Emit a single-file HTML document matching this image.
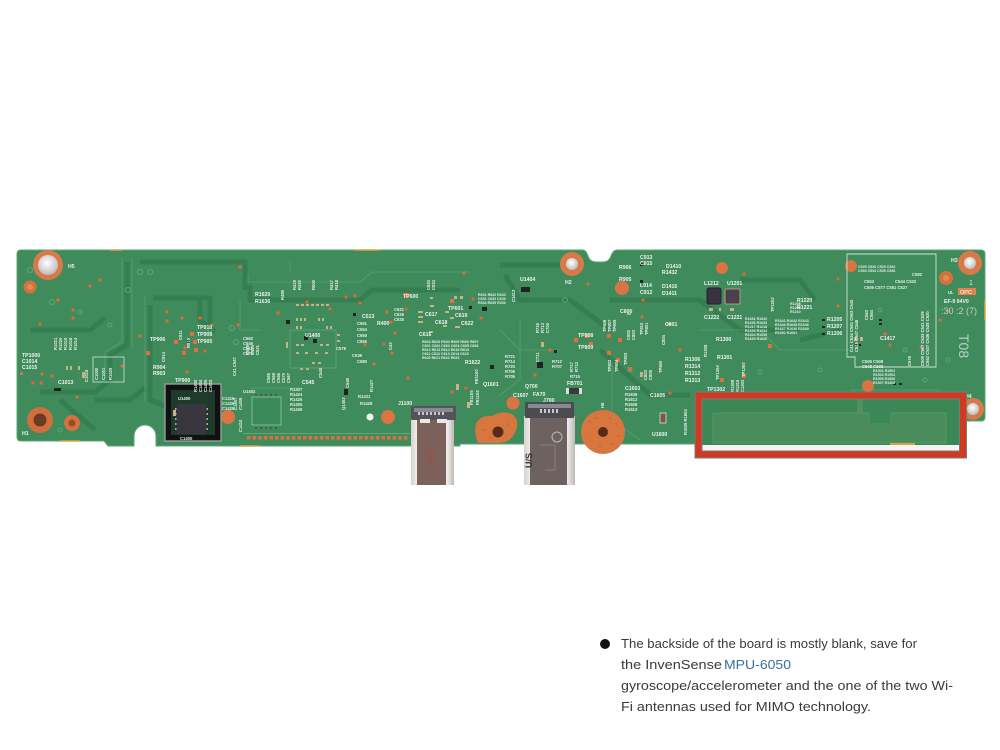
<!DOCTYPE html>
<html><head><meta charset="utf-8"><style>
html,body{margin:0;padding:0;background:#fff;}
svg{display:block;}
.s{font-family:"Liberation Sans Narrow","Liberation Sans",sans-serif;font-weight:bold;font-size:5.2px;fill:#eef3ee;}
.m{font-family:"Liberation Sans Narrow","Liberation Sans",sans-serif;font-weight:bold;font-size:4.2px;fill:#e6efe8;}
.t{font-family:"Liberation Sans","DejaVu Sans",sans-serif;font-size:13px;fill:#3a3a3a;}
</style></head><body>
<svg width="1000" height="750" viewBox="0 0 1000 750" xmlns="http://www.w3.org/2000/svg">
<defs>
<radialGradient id="hw" cx="0.45" cy="0.4" r="0.6"><stop offset="0" stop-color="#ffffff"/><stop offset="1" stop-color="#bdbdbd"/></radialGradient>
<linearGradient id="sil" x1="0" x2="1"><stop offset="0" stop-color="#d6d2ce"/><stop offset="0.15" stop-color="#f2f0ee"/><stop offset="0.85" stop-color="#eeeceb"/><stop offset="1" stop-color="#bcb8b4"/></linearGradient>
</defs>
<rect width="1000" height="750" fill="#ffffff"/>

<!-- board -->
<path d="M21 250 L583 250 Q586 250 588 256 Q590 262 596 262 L603 262 Q609 262 611 256 Q613 250 617 250 L981 250 Q985 250 985 254 L985 417 Q985 421 981 421 L966 421 L966 444 L575 444 L460 444 L460 446 L156 446 L156 436 A11 11 0 0 0 134 436 L134 446 L108 446 L104 441 L21 441 Q17 441 17 437 L17 254 Q17 250 21 250 Z" fill="#3f8b5c" stroke="#5aa574" stroke-width="1"/>

<!-- gold edge bits -->
<g stroke="#d9a04a" stroke-width="1.5">
<line x1="110" y1="250" x2="122" y2="250"/><line x1="355" y1="250" x2="380" y2="250"/>
<line x1="60" y1="441" x2="80" y2="441"/><line x1="240" y1="446" x2="260" y2="446"/>
<line x1="985" y1="300" x2="985" y2="320"/><line x1="900" y1="444" x2="925" y2="444"/>
</g>

<!-- traces (darker) -->
<g fill="none" stroke="#347e52" stroke-width="5" stroke-linejoin="round">
<path d="M127 262 L127 345 L110 355 L110 380 L95 392 L40 392"/>
<path d="M150 305 L150 400 L175 410"/>
<path d="M153 298 L210 298 L210 330"/>
<path d="M200 300 L200 320 L215 332"/>
<path d="M140 262 L245 262 L245 290"/>
<path d="M95 400 L130 400 L145 388"/>
<path d="M250 285 L250 300 L360 300 L372 290 L460 290"/>
<path d="M500 265 L560 265"/>
<path d="M505 275 L520 300 L570 300 L610 330"/>
<path d="M610 300 L700 300 L740 330 L800 330"/>
<path d="M740 280 L800 280 L815 300"/>
<path d="M600 350 L650 395 L690 395"/>
<path d="M800 340 L840 330"/>
<path d="M30 330 L90 330 L105 318"/>
<path d="M60 400 L95 430"/>
</g>
<g fill="none" stroke="#56a070" stroke-width="0.8">
<path d="M122 258 L122 342 L105 352 L105 378"/>
<path d="M132 258 L132 348"/>
<path d="M145 295 L145 402"/>
<path d="M248 275 L248 282 L360 282 L372 272 L470 272"/>
<path d="M290 262 L290 272"/>
<path d="M240 300 L240 330 L260 330"/>
<path d="M500 330 L520 350 L560 350"/>
<path d="M520 320 L520 380 L500 395"/>
<path d="M250 388 L300 388"/>
<path d="M700 330 L760 330 L780 350 L850 350"/>
<path d="M612 362 L612 420 L640 440"/>
<path d="M850 390 L940 390"/>
</g>

<!-- light ring vias -->
<g fill="none" stroke="#5aa878" stroke-width="1">
<circle cx="30" cy="270" r="2.5"/><circle cx="52" cy="302" r="2.5"/><circle cx="80" cy="312" r="2"/><circle cx="110" cy="325" r="2"/>
<circle cx="140" cy="272" r="2.5"/><circle cx="150" cy="272" r="2.5"/><circle cx="128" cy="290" r="2.5"/><circle cx="232" cy="328" r="2.5"/>
<circle cx="236" cy="342" r="2.5"/><circle cx="210" cy="330" r="2"/><circle cx="565" cy="300" r="2.5"/><circle cx="630" cy="370" r="2"/>
<circle cx="820" cy="370" r="2"/><circle cx="905" cy="350" r="2"/><circle cx="925" cy="380" r="2"/><circle cx="880" cy="310" r="2"/>
<circle cx="60" cy="430" r="2"/><circle cx="760" cy="372" r="2"/><circle cx="948" cy="360" r="2"/>
</g>

<!-- orange vias -->
<g fill="#e2683a">
<circle cx="58" cy="300" r="1.8"/><circle cx="40" cy="324" r="1.6"/><circle cx="73" cy="310" r="1.6"/><circle cx="73" cy="318" r="1.6"/>
<circle cx="140" cy="336" r="1.8"/><circle cx="167" cy="312" r="1.6"/><circle cx="167" cy="321" r="1.6"/><circle cx="182" cy="318" r="1.6"/>
<circle cx="200" cy="318" r="1.8"/><circle cx="212" cy="325" r="1.6"/><circle cx="185" cy="348" r="1.6"/><circle cx="205" cy="351" r="1.6"/>
<circle cx="77" cy="397" r="1.6"/><circle cx="33" cy="383" r="1.6"/><circle cx="41" cy="383" r="1.6"/><circle cx="42" cy="374" r="1.6"/>
<circle cx="52" cy="376" r="1.6"/><circle cx="187" cy="372" r="1.6"/><circle cx="240" cy="267" r="1.8"/><circle cx="278" cy="313" r="1.8"/>
<circle cx="238" cy="325" r="1.6"/><circle cx="307" cy="302" r="1.6"/><circle cx="330" cy="309" r="1.6"/><circle cx="346" cy="297" r="1.6"/>
<circle cx="355" cy="296" r="1.6"/><circle cx="360" cy="303" r="1.6"/><circle cx="387" cy="312" r="1.6"/><circle cx="391" cy="322" r="1.6"/>
<circle cx="395" cy="333" r="1.6"/><circle cx="384" cy="344" r="1.6"/><circle cx="392" cy="353" r="1.6"/><circle cx="408" cy="378" r="1.6"/>
<circle cx="365" cy="345" r="1.6"/><circle cx="374" cy="364" r="1.6"/><circle cx="406" cy="309" r="1.6"/><circle cx="464" cy="273" r="1.8"/>
<circle cx="473" cy="299" r="1.6"/><circle cx="481" cy="318" r="1.6"/><circle cx="466" cy="388" r="1.6"/><circle cx="452" cy="392" r="1.6"/>
<circle cx="588" cy="284" r="1.6"/><circle cx="643" cy="300" r="1.6"/><circle cx="642" cy="317" r="1.6"/><circle cx="680" cy="350" r="1.6"/>
<circle cx="720" cy="271" r="1.8"/><circle cx="744" cy="274" r="1.6"/><circle cx="739" cy="296" r="1.6"/><circle cx="670" cy="393" r="1.6"/>
<circle cx="838" cy="306" r="1.6"/><circle cx="885" cy="334" r="1.8"/><circle cx="890" cy="345" r="1.6"/><circle cx="921" cy="347" r="1.6"/>
<circle cx="940" cy="320" r="1.6"/><circle cx="949" cy="311" r="1.6"/><circle cx="838" cy="279" r="1.6"/><circle cx="100" cy="280" r="1.6"/>
<circle cx="90" cy="286" r="1.6"/><circle cx="122" cy="366" r="1.6"/><circle cx="550" cy="350" r="1.6"/><circle cx="535" cy="375" r="1.6"/>
</g>

<!-- holes & copper pads -->
<circle cx="48" cy="265" r="15" fill="#d9794a"/><circle cx="48" cy="265" r="10" fill="url(#hw)"/>
<circle cx="40" cy="420" r="13" fill="#cf6e3f"/><circle cx="40" cy="420" r="6.5" fill="#6a3a24"/>
<circle cx="72" cy="423" r="8" fill="#d4723f"/><circle cx="72" cy="423" r="3.5" fill="#9a4a2a"/>
<circle cx="30" cy="287" r="6.5" fill="#d4723f"/><circle cx="30" cy="287" r="3" fill="#e08a58"/>
<circle cx="228" cy="417" r="7" fill="#db7444"/>
<circle cx="388" cy="417" r="7" fill="#db7444"/>
<circle cx="370" cy="417" r="3.5" fill="#f3f3ee"/>
<circle cx="572" cy="264" r="12" fill="#d9794a"/><circle cx="572" cy="264" r="6" fill="url(#hw)"/>
<circle cx="622" cy="288" r="7" fill="#db7444"/>
<circle cx="722" cy="268" r="6" fill="#db7444"/>
<circle cx="970" cy="263" r="12" fill="#d9794a"/><circle cx="970" cy="263" r="6" fill="url(#hw)"/>
<circle cx="946" cy="278" r="7" fill="#d4723f"/><circle cx="946" cy="278" r="3" fill="#e08a58"/>
<circle cx="851" cy="266" r="6" fill="#db7444"/>
<circle cx="868" cy="386" r="6" fill="#db7444"/>
<circle cx="973" cy="409" r="11" fill="#d9794a"/><circle cx="973" cy="409" r="6" fill="url(#hw)"/>
<circle cx="513" cy="403" r="6.5" fill="#db7444"/>
<path d="M476 424 Q480 415 492 416 Q502 410 512 414 Q520 420 516 430 Q512 442 500 443 L478 443 Q474 434 476 424 Z" fill="#d8763f"/>
<circle cx="498" cy="432" r="5.5" fill="#5a2a18"/>
<circle cx="603" cy="432" r="22" fill="#d8763f"/>
<circle cx="603" cy="432" r="5" fill="#5a2a18"/>
<g fill="#b85a30"><circle cx="590" cy="422" r="0.8"/><circle cx="596" cy="418" r="0.8"/><circle cx="610" cy="418" r="0.8"/><circle cx="616" cy="424" r="0.8"/><circle cx="618" cy="436" r="0.8"/><circle cx="590" cy="440" r="0.8"/><circle cx="600" cy="446" r="0.8"/><circle cx="612" cy="444" r="0.8"/><circle cx="484" cy="430" r="0.8"/><circle cx="508" cy="424" r="0.8"/><circle cx="490" cy="438" r="0.8"/></g>

<!-- bottom pad row -->
<line x1="243" y1="433.5" x2="410" y2="433.5" stroke="#6bb085" stroke-width="0.8"/>
<g fill="#d9703f">
<rect x="247" y="436" width="3.6" height="3.6"/><rect x="252.6" y="436" width="3.6" height="3.6"/><rect x="258.2" y="436" width="3.6" height="3.6"/><rect x="263.8" y="436" width="3.6" height="3.6"/><rect x="269.4" y="436" width="3.6" height="3.6"/><rect x="275" y="436" width="3.6" height="3.6"/><rect x="280.6" y="436" width="3.6" height="3.6"/><rect x="286.2" y="436" width="3.6" height="3.6"/><rect x="291.8" y="436" width="3.6" height="3.6"/><rect x="297.4" y="436" width="3.6" height="3.6"/><rect x="303" y="436" width="3.6" height="3.6"/><rect x="308.6" y="436" width="3.6" height="3.6"/><rect x="314.2" y="436" width="3.6" height="3.6"/><rect x="319.8" y="436" width="3.6" height="3.6"/><rect x="325.4" y="436" width="3.6" height="3.6"/><rect x="331" y="436" width="3.6" height="3.6"/><rect x="336.6" y="436" width="3.6" height="3.6"/><rect x="342.2" y="436" width="3.6" height="3.6"/><rect x="347.8" y="436" width="3.6" height="3.6"/><rect x="353.4" y="436" width="3.6" height="3.6"/><rect x="359" y="436" width="3.6" height="3.6"/><rect x="364.6" y="436" width="3.6" height="3.6"/><rect x="370.2" y="436" width="3.6" height="3.6"/><rect x="375.8" y="436" width="3.6" height="3.6"/><rect x="381.4" y="436" width="3.6" height="3.6"/><rect x="387" y="436" width="3.6" height="3.6"/><rect x="392.6" y="436" width="3.6" height="3.6"/><rect x="398.2" y="436" width="3.6" height="3.6"/><rect x="403.8" y="436" width="3.6" height="3.6"/>
</g>
<!-- test-point pads -->
<g fill="#e07040">
<rect x="174" y="340" width="4" height="4"/><rect x="190" y="332" width="4" height="4"/><rect x="193" y="340" width="4" height="4"/><rect x="194" y="348" width="4" height="4"/><rect x="182" y="351" width="4" height="4"/><rect x="146" y="351" width="4" height="4"/>
<rect x="404" y="293" width="5" height="5"/><rect x="450" y="299" width="4" height="4"/><rect x="574" y="338" width="4" height="4"/><rect x="585" y="334" width="4" height="4"/><rect x="589" y="342" width="4" height="4"/><rect x="607" y="334" width="4" height="4"/><rect x="618" y="338" width="4" height="4"/><rect x="607" y="351" width="4" height="4"/><rect x="616" y="358" width="4" height="4"/><rect x="628" y="367" width="4" height="4"/><rect x="742" y="374" width="4" height="4"/><rect x="768" y="344" width="4" height="4"/><rect x="720" y="378" width="4" height="4"/><rect x="755" y="398" width="4" height="4"/><rect x="20" y="372" width="3" height="3"/>
</g>

<!-- small SMD components -->
<g fill="#c9b287">
<rect x="66" y="366" width="2" height="4"/><rect x="70" y="366" width="2" height="4"/><rect x="78" y="366" width="2" height="4"/><rect x="82" y="372" width="3" height="6"/>
<rect x="296" y="304" width="3" height="2"/><rect x="301" y="304" width="3" height="2"/><rect x="306" y="304" width="3" height="2"/><rect x="311" y="304" width="3" height="2"/><rect x="316" y="304" width="3" height="2"/><rect x="321" y="304" width="3" height="2"/><rect x="326" y="304" width="3" height="2"/>
<rect x="296" y="318" width="2" height="3"/><rect x="300" y="318" width="2" height="3"/><rect x="304" y="318" width="2" height="3"/><rect x="318" y="318" width="2" height="3"/><rect x="322" y="318" width="2" height="3"/>
<rect x="296" y="326" width="2" height="3"/><rect x="300" y="326" width="2" height="3"/><rect x="326" y="326" width="2" height="3"/><rect x="330" y="326" width="2" height="3"/>
<rect x="296" y="344" width="3" height="2"/><rect x="301" y="344" width="3" height="2"/><rect x="320" y="344" width="3" height="2"/><rect x="326" y="344" width="3" height="2"/>
<rect x="296" y="352" width="3" height="2"/><rect x="305" y="352" width="3" height="2"/><rect x="315" y="352" width="3" height="2"/><rect x="325" y="352" width="3" height="2"/>
<rect x="312" y="362" width="3" height="2"/><rect x="318" y="362" width="3" height="2"/><rect x="300" y="368" width="3" height="2"/><rect x="306" y="368" width="3" height="2"/>
<rect x="286" y="342" width="2" height="6"/><rect x="337" y="340" width="3" height="2"/><rect x="337" y="334" width="3" height="2"/>
<rect x="418" y="311" width="5" height="2"/><rect x="418" y="316" width="5" height="2"/><rect x="418" y="321" width="5" height="2"/><rect x="430" y="305" width="4" height="2"/><rect x="445" y="311" width="4" height="2"/><rect x="450" y="317" width="4" height="2"/><rect x="443" y="325" width="4" height="2"/><rect x="455" y="326" width="5" height="2"/><rect x="429" y="331" width="4" height="2"/><rect x="430" y="297" width="3" height="2"/>
<rect x="454" y="296" width="3" height="3"/><rect x="460" y="296" width="3" height="3"/>
<rect x="709" y="308" width="4" height="3"/><rect x="719" y="308" width="2" height="3"/><rect x="730" y="308" width="4" height="3"/>
<rect x="667" y="323" width="4" height="2"/><rect x="627" y="313" width="4" height="2"/>
<rect x="541" y="342" width="3" height="5"/><rect x="640" y="372" width="3" height="5"/><rect x="456" y="384" width="3" height="6"/><rect x="467" y="402" width="3" height="6"/>
<rect x="860" y="337" width="3" height="4"/><rect x="854" y="337" width="3" height="4"/>
</g>
<g fill="#222">
<rect x="54" y="388" width="7" height="3"/><rect x="187" y="340" width="3" height="3"/><rect x="313" y="339" width="4" height="4"/>
<rect x="521" y="287" width="9" height="5"/><rect x="482" y="307" width="5" height="4"/><rect x="469" y="306" width="3" height="3"/>
<rect x="537" y="362" width="6" height="6"/><rect x="554" y="350" width="3" height="3"/>
<rect x="344" y="389" width="4" height="6"/><rect x="640" y="263" width="3" height="3"/><rect x="640" y="280" width="3" height="3"/>
<rect x="855" y="344" width="3" height="2"/><rect x="859" y="344" width="2" height="2"/>
<rect x="893" y="383" width="3" height="2"/><rect x="899" y="383" width="3" height="2"/>
<rect x="879" y="319" width="3" height="2"/><rect x="879" y="323" width="3" height="2"/>
<rect x="822" y="319" width="3" height="2"/><rect x="822" y="326" width="3" height="2"/><rect x="822" y="333" width="3" height="2"/>
<rect x="286" y="320" width="4" height="4"/><rect x="304" y="336" width="4" height="4"/>
<rect x="353" y="313" width="3" height="3"/><rect x="490" y="365" width="4" height="4"/>
</g>
<!-- L1212 / U1201 -->
<rect x="707" y="288" width="14" height="16" rx="2" fill="#3a3240" stroke="#2a2228"/>
<rect x="725" y="289" width="15" height="15" rx="1" fill="#4a3f4c" stroke="#c9b287" stroke-width="0.8"/>
<!-- FB701 -->
<rect x="566" y="388" width="16" height="6" fill="#3a3a3c"/><rect x="566" y="388" width="3" height="6" fill="#ddd"/><rect x="579" y="388" width="3" height="6" fill="#ddd"/>
<!-- U1402 -->
<rect x="252" y="397" width="29" height="28" fill="#3a8a5a" stroke="#8cc9a2" stroke-width="0.8"/>
<g fill="#4a5a52"><rect x="255" y="394" width="2" height="2"/><rect x="260" y="394" width="2" height="2"/><rect x="265" y="394" width="2" height="2"/><rect x="270" y="394" width="2" height="2"/><rect x="275" y="394" width="2" height="2"/>
<rect x="255" y="427" width="2" height="2"/><rect x="260" y="427" width="2" height="2"/><rect x="265" y="427" width="2" height="2"/><rect x="270" y="427" width="2" height="2"/><rect x="275" y="427" width="2" height="2"/></g>
<!-- U1600 -->
<rect x="660" y="413" width="6" height="10" fill="#7a5a4a" stroke="#ddd" stroke-width="0.8"/>
<!-- dense area chip outline -->
<rect x="290" y="330" width="46" height="38" fill="none" stroke="#6ab083" stroke-width="0.6"/>

<!-- MPU-6050 highlight -->
<rect x="165" y="384" width="56" height="57" fill="#111" stroke="#9c9c9c" stroke-width="1.4"/>
<rect x="171" y="390" width="44" height="45" fill="#1e3a2a"/>
<rect x="177" y="404" width="29" height="30" fill="#3a3640"/>
<g fill="#b0a8a0"><rect x="175" y="408" width="1.5" height="2"/><rect x="175" y="413" width="1.5" height="2"/><rect x="175" y="418" width="1.5" height="2"/><rect x="175" y="423" width="1.5" height="2"/><rect x="175" y="428" width="1.5" height="2"/>
<rect x="206.5" y="408" width="1.5" height="2"/><rect x="206.5" y="413" width="1.5" height="2"/><rect x="206.5" y="418" width="1.5" height="2"/><rect x="206.5" y="423" width="1.5" height="2"/><rect x="206.5" y="428" width="1.5" height="2"/></g>
<rect x="173" y="410" width="3" height="6" fill="#c9b287"/>
<text class="m" x="178" y="400">U1400</text>
<text class="m" x="180" y="440">C1400</text>

<!-- connector J1100 -->
<rect x="411" y="418" width="43" height="67" fill="url(#sil)"/>
<rect x="417" y="420" width="29" height="65" fill="#7c615b"/>
<rect x="411" y="406" width="45" height="14" rx="1" fill="#55535a"/>
<rect x="414" y="408" width="39" height="4" fill="#8a8890"/>
<g fill="#c9c9cc"><rect x="418" y="412" width="2" height="3"/><rect x="422" y="412" width="2" height="3"/><rect x="426" y="412" width="2" height="3"/><rect x="430" y="412" width="2" height="3"/><rect x="434" y="412" width="2" height="3"/><rect x="438" y="412" width="2" height="3"/><rect x="442" y="412" width="2" height="3"/></g>
<rect x="420" y="419" width="10" height="4" fill="#e8e8e8"/><rect x="437" y="419" width="10" height="4" fill="#e8e8e8"/>
<text x="0" y="0" transform="translate(427,448) rotate(90)" font-family="Liberation Sans,sans-serif" font-size="9" fill="#a8463c">DTX-</text>

<!-- connector J700 -->
<rect x="524" y="416" width="51" height="69" fill="url(#sil)"/>
<rect x="530" y="418" width="37" height="67" fill="#6d6260"/>
<rect x="525" y="402" width="49" height="16" rx="1" fill="#4d4b52"/>
<rect x="528" y="404" width="43" height="4" fill="#8a8890"/>
<g fill="#c9c9cc"><rect x="540" y="409" width="2" height="4"/><rect x="544" y="409" width="2" height="4"/><rect x="548" y="409" width="2" height="4"/><rect x="552" y="409" width="2" height="4"/><rect x="556" y="409" width="2" height="4"/></g>
<circle cx="557" cy="437" r="5" fill="none" stroke="#bbb" stroke-width="1"/>
<text x="0" y="0" transform="translate(532,468) rotate(-90)" font-family="Liberation Sans,sans-serif" font-weight="bold" font-size="9" fill="#3a3030">U/S</text>
<path d="M540 445 L555 445 L555 470 L545 470" fill="none" stroke="#8a7f7c" stroke-width="1"/>

<!-- silkscreen box right -->
<path d="M847 254 L936 254 L936 367 L855 367 L855 357 L847 357 Z" fill="none" stroke="#cfe3d5" stroke-width="0.9"/>
<!-- OPC sticker -->
<rect x="958" y="288" width="18" height="7" fill="#e0844f"/>
<text x="960" y="294" font-family="Liberation Sans,sans-serif" font-size="5.5" fill="#fff">OPC</text>
<text x="948" y="294" class="m">UL</text>
<text x="969" y="285" font-family="Liberation Sans,sans-serif" font-size="7" fill="#dce9e0">1</text>
<text x="944" y="303" class="s" fill="#dce9e0">EF-9  94V0</text>
<text x="941" y="314" font-family="Liberation Sans,sans-serif" font-size="9" fill="#b9d3c4">:30 :2 (7)</text>
<text x="0" y="0" transform="translate(959,334) rotate(90)" font-family="Liberation Sans,sans-serif" font-size="14" fill="#b6d2c6">T08</text>

<!-- silkscreen labels -->
<text class="s" x="68" y="268">H5</text>
<text class="s" x="22" y="435">H1</text>
<text class="s" x="565" y="284">H2</text>
<text class="s" x="951" y="262">H3</text>
<text class="s" x="965" y="398">H4</text>
<text class="s" x="22" y="357">TP1000</text>
<text class="s" x="22" y="363">C1014</text>
<text class="s" x="22" y="369">C1015</text>
<text class="s" x="58" y="384">C1013</text>
<g transform="translate(57,350) rotate(-90)"><text class="m" x="0" y="0">R1021</text><text class="m" x="0" y="5">R1020</text><text class="m" x="0" y="10">R1019</text><text class="m" x="0" y="15">R1018</text><text class="m" x="0" y="20">R1014</text></g>
<rect x="93" y="357" width="31" height="25" fill="none" stroke="#e6efe8" stroke-width="0.7"/>
<g transform="translate(98,380) rotate(-90)"><text class="m" x="0" y="0">C1000</text><text class="m" x="0" y="7">C1001</text><text class="m" x="0" y="14">R1029</text></g>
<g transform="translate(88,382) rotate(-90)"><text class="m" x="0" y="0">C1018</text></g>
<text class="s" x="197" y="329">TP910</text>
<text class="s" x="197" y="336">TP908</text>
<text class="s" x="197" y="343">TP905</text>
<text class="s" x="150" y="341">TP906</text>
<text class="s" x="153" y="369">R904</text>
<text class="s" x="153" y="375">R903</text>
<text class="s" x="175" y="382">TP900</text>
<g transform="translate(182,340) rotate(-90)"><text class="m" x="0" y="0">C911</text></g>
<g transform="translate(165,362) rotate(-90)"><text class="m" x="0" y="0">C914</text></g>
<g transform="translate(190,348) rotate(-90)"><text class="m" x="0" y="0">R910</text></g>
<g transform="translate(197,392) rotate(-90)"><text class="m" x="0" y="0">R1400</text><text class="m" x="0" y="5">C1404</text><text class="m" x="0" y="10">C1405</text><text class="m" x="0" y="15">C1403</text></g>
<g transform="translate(236,376) rotate(-90)"><text class="m" x="0" y="0">C41 C547</text></g>
<g transform="translate(249,355) rotate(-90)"><text class="m" x="0" y="0">C519</text><text class="m" x="0" y="5">C520</text><text class="m" x="0" y="10">C521</text></g>
<text class="m" x="243" y="340">C562</text><text class="m" x="243" y="345">C546</text><text class="m" x="243" y="350">C512</text><text class="m" x="243" y="355">C579</text>
<g transform="translate(237,410) rotate(-90)"><text class="m" x="0" y="0">C1407</text><text class="m" x="0" y="5">C1408</text></g>
<text class="m" x="243" y="393">U1402</text>
<text class="m" x="222" y="400">C1416</text><text class="m" x="222" y="405">C1426</text><text class="m" x="222" y="410">C1429</text>
<text class="m" x="290" y="391">R1407</text><text class="m" x="290" y="396">R1424</text><text class="m" x="290" y="401">R1425</text><text class="m" x="290" y="406">R1405</text><text class="m" x="290" y="411">R1406</text>
<g transform="translate(242,432) rotate(-90)"><text class="m" x="0" y="0">C1410</text></g>
<text class="s" x="255" y="296">R1620</text>
<text class="s" x="255" y="303">R1636</text>
<g transform="translate(284,300) rotate(-90)"><text class="m" x="0" y="0">R485</text></g>
<g transform="translate(296,290) rotate(-90)"><text class="m" x="0" y="0">R419</text><text class="m" x="0" y="5">R420</text></g>
<g transform="translate(315,290) rotate(-90)"><text class="m" x="0" y="0">R500</text></g>
<g transform="translate(333,290) rotate(-90)"><text class="m" x="0" y="0">R417</text><text class="m" x="0" y="5">R418</text></g>
<text class="s" x="305" y="337">U1400</text>
<text class="s" x="362" y="318">C513</text>
<text class="m" x="357" y="325">C561</text><text class="s" x="377" y="325">R400</text>
<text class="m" x="357" y="331">C554</text><text class="m" x="357" y="337">C550</text><text class="m" x="357" y="343">C555</text>
<text class="m" x="336" y="350">C578</text>
<text class="m" x="352" y="357">C539</text><text class="m" x="357" y="363">C580</text>
<g transform="translate(392,350) rotate(-90)"><text class="m" x="0" y="0">C43</text></g>
<g transform="translate(270,383) rotate(-90)"><text class="m" x="0" y="0">C565</text><text class="m" x="0" y="5">C568</text><text class="m" x="0" y="10">C566</text><text class="m" x="0" y="15">C570</text><text class="m" x="0" y="20">C567</text></g>
<text class="s" x="302" y="384">C545</text>
<g transform="translate(322,378) rotate(-90)"><text class="m" x="0" y="0">C548</text></g>
<g transform="translate(349,388) rotate(-90)"><text class="m" x="0" y="0">C546</text></g>
<g transform="translate(345,410) rotate(-90)"><text class="m" x="0" y="0">Q1403</text></g>
<g transform="translate(373,392) rotate(-90)"><text class="m" x="0" y="0">R1427</text></g>
<text class="m" x="358" y="398">R1431</text>
<text class="m" x="360" y="405">R1428</text>
<text class="s" x="403" y="298">TP600</text>
<text class="s" x="448" y="310">TP601</text>
<text class="s" x="425" y="316">C617</text><text class="s" x="455" y="317">C619</text>
<text class="s" x="435" y="324">C618</text><text class="s" x="461" y="325">C622</text>
<text class="s" x="419" y="336">C616</text>
<text class="m" x="394" y="311">C621</text><text class="m" x="394" y="316">C626</text><text class="m" x="394" y="321">C625</text>
<g transform="translate(430,290) rotate(-90)"><text class="m" x="0" y="0">C620</text><text class="m" x="0" y="5">C624</text></g>
<g fill="#e6efe8" font-family="Liberation Sans Narrow,Liberation Sans,sans-serif" font-weight="bold" font-size="3.6">
<text x="422" y="343">R602 R603 R604 R605 R606 R607</text><text x="422" y="347">C601 C602 C603 C604 C605 C606</text><text x="422" y="351">R612 R613 R614 R615 R616</text><text x="422" y="355">C611 C612 C613 C614 C615</text><text x="422" y="359">R620 R621 R622 R623</text>
<text x="478" y="296">R631 R632 R633</text><text x="478" y="300">C631 C632 C633</text><text x="478" y="304">R634 R635 R636</text>
<text x="745" y="320">R1631 R1632</text><text x="745" y="324">R1636 R1633</text><text x="745" y="328">R1217 R1218</text><text x="745" y="332">R1633 R1634</text><text x="745" y="336">R1624 R1635</text><text x="745" y="340">R1625 R1626</text>
<text x="775" y="322">R1641 R1642 R1643</text><text x="775" y="326">R1644 R1645 R1646</text><text x="775" y="330">R1647 R1648 R1649</text><text x="775" y="334">R1650 R1651</text>
<text x="790" y="305">R1208</text><text x="790" y="309">R1209</text><text x="790" y="313">R1210</text>
<text x="873" y="372">R1501 R1502</text><text x="873" y="376">R1503 R1504</text><text x="873" y="380">R1505 R1506</text><text x="873" y="384">R1507 R1508</text>
<text x="858" y="268">C525 C526 C529 C532</text><text x="858" y="272">C533 C534 C535 C536</text>
</g>
<text class="s" x="465" y="364">R1622</text>
<text class="s" x="483" y="386">Q1601</text>
<g transform="translate(473,405) rotate(-90)"><text class="m" x="0" y="0">FB1105</text><text class="m" x="0" y="6">FB1104</text></g>
<g transform="translate(478,384) rotate(-90)"><text class="m" x="0" y="0">FB1100</text></g>
<text class="s" x="398" y="405">J1100</text>
<text class="s" x="520" y="281">U1404</text>
<g transform="translate(515,302) rotate(-90)"><text class="m" x="0" y="0">C1413</text></g>
<g transform="translate(539,333) rotate(-90)"><text class="m" x="0" y="0">R716</text><text class="m" x="0" y="5">R713</text><text class="m" x="0" y="10">C700</text></g>
<g transform="translate(539,362) rotate(-90)"><text class="m" x="0" y="0">C711</text></g>
<text class="m" x="505" y="358">R721</text><text class="m" x="505" y="363">R714</text><text class="m" x="505" y="368">R720</text><text class="m" x="505" y="373">R706</text><text class="m" x="505" y="378">R705</text>
<text class="m" x="552" y="363">R712</text><text class="m" x="552" y="368">R707</text>
<g transform="translate(573,372) rotate(-90)"><text class="m" x="0" y="0">R717</text><text class="m" x="0" y="5">R713</text></g>
<text class="m" x="570" y="378">R715</text>
<text class="s" x="567" y="385">FB701</text>
<text class="s" x="525" y="388">Q700</text>
<text class="s" x="533" y="396">FA70</text>
<text class="s" x="513" y="397">C1607</text>
<text class="s" x="543" y="402">J700</text>
<text class="s" x="578" y="337">TP808</text>
<text class="s" x="578" y="349">TP809</text>
<g transform="translate(606,332) rotate(-90)"><text class="m" x="0" y="0">TP806</text><text class="m" x="0" y="5">TP807</text><text class="m" x="0" y="10">TP805</text></g>
<g transform="translate(611,372) rotate(-90)"><text class="m" x="0" y="0">TP802</text><text class="m" x="0" y="7">TP804</text></g>
<g transform="translate(630,340) rotate(-90)"><text class="m" x="0" y="0">C802</text><text class="m" x="0" y="5">C803</text></g>
<g transform="translate(643,335) rotate(-90)"><text class="m" x="0" y="0">TP810</text><text class="m" x="0" y="5">TP801</text></g>
<g transform="translate(627,365) rotate(-90)"><text class="m" x="0" y="0">TP803</text></g>
<g transform="translate(647,380) rotate(-90)"><text class="m" x="0" y="0">C803</text><text class="m" x="0" y="5">C805</text></g>
<g transform="translate(662,373) rotate(-90)"><text class="m" x="0" y="0">TP800</text></g>
<g transform="translate(665,345) rotate(-90)"><text class="m" x="0" y="0">C804</text></g>
<text class="s" x="620" y="313">C806</text>
<text class="s" x="665" y="326">C801</text>
<text class="s" x="640" y="259">C913</text><text class="s" x="640" y="265">C915</text>
<text class="s" x="619" y="269">R906</text><text class="s" x="619" y="281">R905</text>
<text class="s" x="666" y="268">D1410</text><text class="s" x="662" y="274">R1432</text>
<text class="s" x="640" y="287">L914</text><text class="s" x="640" y="294">C912</text>
<text class="s" x="662" y="288">D1416</text><text class="s" x="662" y="295">D1411</text>
<text class="s" x="704" y="285">L1212</text><text class="s" x="727" y="285">U1201</text>
<text class="s" x="704" y="319">C1222</text><text class="s" x="727" y="319">C1221</text>
<text class="s" x="797" y="302">R1220</text><text class="s" x="797" y="309">R1221</text>
<text class="s" x="716" y="341">R1300</text>
<g transform="translate(707,357) rotate(-90)"><text class="m" x="0" y="0">R1308</text></g>
<g transform="translate(745,377) rotate(-90)"><text class="m" x="0" y="0">TP1300</text></g>
<g transform="translate(774,312) rotate(-90)"><text class="m" x="0" y="0">TP1202</text></g>
<text class="s" x="717" y="359">R1301</text>
<text class="s" x="685" y="361">R1306</text><text class="s" x="685" y="368">R1314</text><text class="s" x="685" y="375">R1312</text><text class="s" x="685" y="382">R1313</text>
<g transform="translate(719,380) rotate(-90)"><text class="m" x="0" y="0">TP1304</text></g>
<g transform="translate(734,392) rotate(-90)"><text class="m" x="0" y="0">R1309</text><text class="m" x="0" y="5">R1310</text><text class="m" x="0" y="10">C1303</text></g>
<text class="s" x="707" y="391">TP1302</text>
<text class="s" x="827" y="321">R1205</text><text class="s" x="827" y="328">R1207</text><text class="s" x="827" y="335">R1206</text>
<text class="s" x="625" y="390">C1603</text><text class="m" x="625" y="396">R1636</text><text class="m" x="625" y="401">R1612</text><text class="m" x="625" y="406">R1606</text><text class="m" x="625" y="411">R1613</text>
<text class="s" x="650" y="397">C1605</text>
<text class="s" x="652" y="436">U1600</text>
<g transform="translate(687,435) rotate(-90)"><text class="m" x="0" y="0">R1639 R1604</text></g>
<g transform="translate(604,408) rotate(-90)"><text class="m" x="0" y="0">H8</text></g>
<text class="s" x="880" y="340">C1417</text>
<text class="m" x="864" y="283">C553</text><text class="m" x="895" y="283">C544 C532</text>
<text class="m" x="864" y="289">C506 C577 C551 C527</text>
<text class="m" x="912" y="276">C582</text>
<text class="m" x="862" y="363">C505 C508</text><text class="m" x="862" y="368">C548 C538</text>
<g transform="translate(853,352) rotate(-90)"><text class="m" x="0" y="0">C41 C534 C581 C553 C542</text><text class="m" x="0" y="5">C515 C547 C546</text></g>
<g transform="translate(868,320) rotate(-90)"><text class="m" x="0" y="0">C563</text><text class="m" x="0" y="5">C564</text></g>
<g transform="translate(924,366) rotate(-90)"><text class="m" x="0" y="0">C509 C567 C533 C541 C539</text><text class="m" x="0" y="5">C552 C537 C536 C528 C530</text></g>
<g transform="translate(911,366) rotate(-90)"><text class="m" x="0" y="0">C576</text></g>
<g transform="translate(832,410) rotate(-90)"><text class="m" x="0" y="0">C1406</text><text class="m" x="0" y="5">R1418</text><text class="m" x="0" y="10">R1415</text></g>
<g transform="translate(852,410) rotate(-90)"><text class="m" x="0" y="0">C1204</text></g>

<!-- antenna highlight -->
<rect x="698" y="396" width="264" height="50" fill="#3b8756"/>
<rect x="713" y="413" width="233" height="30" fill="#4a8c5c" stroke="#5d9c6e" stroke-width="0.8"/>
<rect x="857" y="399" width="6" height="14" fill="#4f9162"/>
<rect x="870" y="411" width="20" height="12" fill="#3b8756"/>
<rect x="890" y="443" width="25" height="2" fill="#d9a04a"/>
<rect x="698" y="445" width="264" height="8" fill="#f4f4f2"/>
<rect x="698.5" y="395.5" width="264.5" height="59" fill="none" stroke="#7a7a7a" stroke-width="8"/>
<rect x="698.5" y="395.5" width="264.5" height="59" fill="none" stroke="#cf3a22" stroke-width="6"/>

<!-- caption -->
<circle cx="605" cy="644" r="5" fill="#111"/>
<text class="t" x="621" y="648" textLength="296" lengthAdjust="spacingAndGlyphs">The backside of the board is mostly blank, save for</text>
<text class="t" x="621" y="669" textLength="101" lengthAdjust="spacingAndGlyphs">the InvenSense</text>
<text class="t" x="724" y="669" textLength="67" lengthAdjust="spacingAndGlyphs" style="fill:#3b6ea0">MPU-6050</text>
<text class="t" x="621" y="690" textLength="332" lengthAdjust="spacingAndGlyphs">gyroscope/accelerometer and the one of the two Wi-</text>
<text class="t" x="621" y="711" textLength="250" lengthAdjust="spacingAndGlyphs">Fi antennas used for MIMO technology.</text>
</svg>
</body></html>
